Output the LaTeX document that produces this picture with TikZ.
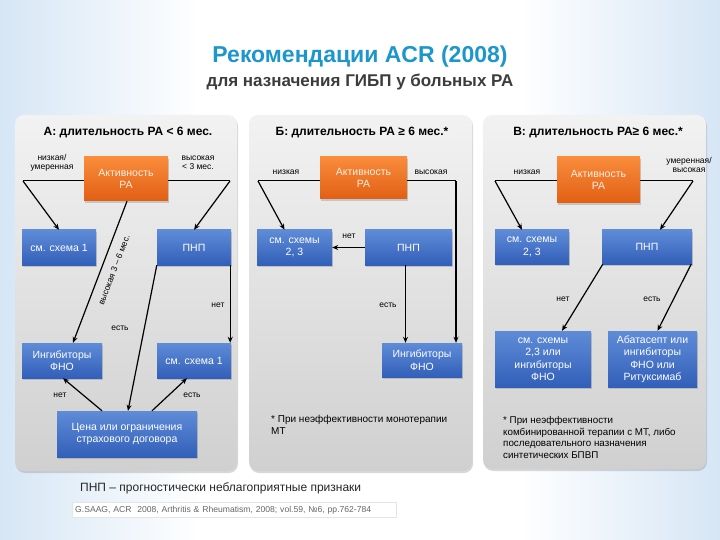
\documentclass[tikz,border=0pt]{standalone}
\usepackage{fontspec}
\setmainfont{Liberation Sans}
\usetikzlibrary{arrows.meta,shadows}
\definecolor{titleblue}{RGB}{28,150,205}
\definecolor{subgray}{RGB}{60,60,60}
\definecolor{boxtop}{RGB}{95,140,215}
\definecolor{boxbot}{RGB}{50,95,185}
\definecolor{ortop}{RGB}{250,140,60}
\definecolor{orbot}{RGB}{225,95,20}
\definecolor{paneltop}{RGB}{242,242,242}
\definecolor{panelbot}{RGB}{208,208,208}
\definecolor{bgblue}{RGB}{214,230,245}
\begin{document}
\begin{tikzpicture}[x=1pt,y=-1pt,
  panel/.style={rounded corners=9pt,top color=paneltop,bottom color=panelbot,draw=none,
    drop shadow={shadow xshift=1pt,shadow yshift=-2pt,opacity=0.3}},
  bluebox/.style={draw=none,top color=boxtop,bottom color=boxbot,text=white,
    font=\fontsize{10.5}{12.5}\selectfont,align=center,inner sep=1pt,
    drop shadow={shadow xshift=1pt,shadow yshift=-2pt,opacity=0.35}},
  orbox/.style={draw=none,top color=ortop,bottom color=orbot,text=white!90!orange,
    font=\fontsize{10.5}{12.5}\selectfont,align=center,inner sep=1pt,
    drop shadow={shadow xshift=1pt,shadow yshift=-2pt,opacity=0.35}},
  lbl/.style={font=\fontsize{8.5}{9.5}\selectfont,align=center,text=black,inner sep=1pt},
  hdr/.style={font=\bfseries\fontsize{12}{14}\selectfont,text=black},
  note/.style={font=\fontsize{10}{12.5}\selectfont,align=left,anchor=north west,inner sep=0pt},
  arr/.style={-{Stealth[length=6pt,width=5pt]},line width=1.2pt},
  ln/.style={line width=1pt}
]
\useasboundingbox (0,0) rectangle (720,540);
% background
\fill[white] (0,0) rectangle (720,540);
\shade[left color=bgblue,right color=white] (0,0) rectangle (200,540);
\shade[left color=white,right color=bgblue] (520,0) rectangle (720,540);

% title
\node[font=\bfseries\fontsize{23}{26}\selectfont,text=titleblue] (title) at (360,57) {Рекомендации ACR (2008)};
\node[font=\bfseries\fontsize{17}{20}\selectfont,text=subgray] (subtitle) at (360,82) {для назначения ГИБП у больных РА};

% panels
\path[panel] (15,115) rectangle (237,471);
\path[panel] (249,115) rectangle (472,471);
\path[panel] (483,115) rectangle (706,469);

% headers
\node[hdr] (hA) at (128,133) {А: длительность РА < 6 мес.};
\node[hdr] (hB) at (362,133) {Б: длительность РА ≥ 6 мес.*};
\node[hdr] (hC) at (598,133) {В: длительность РА≥ 6 мес.*};

% ---------- Panel A ----------
\node[orbox,minimum width=84pt,minimum height=44pt] (orA) at (126,179) {Активность\\РА};
\node[bluebox,minimum width=74pt,minimum height=35pt] (s1A) at (59,247.5) {см. схема 1};
\node[bluebox,minimum width=74pt,minimum height=35pt] (pnpA) at (194,247.5) {ПНП};
\node[bluebox,minimum width=80pt,minimum height=35pt] (ingA) at (62,360.5) {Ингибиторы\\ФНО};
\node[bluebox,minimum width=74pt,minimum height=35pt] (s1bA) at (194,360.5) {см. схема 1};
\node[bluebox,minimum width=140pt,minimum height=46pt] (costA) at (127,434) {Цена или ограничения\\страхового договора};

\coordinate (aL) at (23,181);
\coordinate (aR) at (230,181);
\draw[ln] (orA.west |- aL) -- (aL);
\draw[ln] (orA.east |- aR) -- (aR);
\draw[arr] (aL) -- (s1A.north);
\draw[arr] (aR) -- (pnpA.north);
\node[lbl] (lA1) at (52,163) {низкая/\\умеренная};
\node[lbl] (lA2) at (198,163) {высокая\\< 3 мес.};
\draw[arr] ([xshift=1pt]orA.south) -- ([xshift=11pt]ingA.north);
\node[lbl,rotate=69] (lA3) at (114,270) {высокая 3 – 6 мес.};
\draw[arr] ([xshift=-1pt]pnpA.south east) -- ([xshift=-1pt]s1bA.north east);
\node[lbl] (lA4) at (218,305) {нет};
\draw[arr] (pnpA.south west) -- ([xshift=1pt]costA.north);
\node[lbl] (lA5) at (120,328) {есть};
\draw[arr] ([xshift=-25pt]costA.north) -- ([xshift=1pt]ingA.south);
\draw[arr] ([xshift=25pt]costA.north) -- ([xshift=-7pt]s1bA.south);
\node[lbl] (lA6) at (60,395) {нет};
\node[lbl] (lA7) at (192,395) {есть};

% ---------- Panel B ----------
\node[orbox,minimum width=87pt,minimum height=42pt] (orB) at (363.5,178) {Активность\\РА};
\node[bluebox,minimum width=75pt,minimum height=35pt] (s23B) at (294.5,247.5) {см. схемы\\2, 3};
\node[bluebox,minimum width=87pt,minimum height=35pt] (pnpB) at (408.5,247.5) {ПНП};
\node[bluebox,minimum width=80pt,minimum height=34pt] (ingB) at (422,360) {Ингибиторы\\ФНО};
\coordinate (bL) at (258,181);
\coordinate (bR) at (456,181);
\draw[ln] (orB.west |- bL) -- (bL);
\draw[ln] (orB.east |- bR) -- (bR);
\draw[arr] (bL) -- ([xshift=-10pt]s23B.north);
\draw[arr] (bR) -- (bR |- ingB.north);
\node[lbl] (lB1) at (286,172) {низкая};
\node[lbl] (lB2) at (431,172) {высокая};
\draw[arr] (pnpB.west) -- (s23B.east);
\node[lbl] (lB3) at (349,236) {нет};
\draw[arr,line width=1.8pt] ([xshift=-3pt]pnpB.south) -- ([xshift=-3pt]pnpB.south |- ingB.north);
\node[lbl] (lB4) at (388,305) {есть};
\node[note] (nB) at (271,415) {* При неэффективности монотерапии\\МТ};

% ---------- Panel C ----------
\node[orbox,minimum width=83pt,minimum height=46pt] (orC) at (598.5,180) {Активность\\РА};
\node[bluebox,minimum width=74pt,minimum height=34pt] (s23C) at (532,247) {см. схемы\\2, 3};
\node[bluebox,minimum width=90pt,minimum height=34pt] (pnpC) at (647,247) {ПНП};
\node[bluebox,minimum width=96pt,minimum height=56pt] (s23iC) at (543,359) {см. схемы\\2,3 или\\ингибиторы\\ФНО};
\node[bluebox,minimum width=89pt,minimum height=56pt] (abaC) at (652.5,359) {Абатасепт или\\ингибиторы\\ФНО или\\Ритуксимаб};
\coordinate (cL) at (495,181);
\coordinate (cR) at (693,181);
\draw[ln] (orC.west |- cL) -- (cL);
\draw[ln] (orC.east |- cR) -- (cR);
\draw[arr] (cL) -- ([xshift=-10pt]s23C.north);
\draw[arr] (cR) -- ([xshift=13pt]pnpC.north);
\node[lbl] (lC1) at (527,172) {низкая};
\node[lbl] (lC2) at (689,165) {умеренная/\\высокая};
\draw[arr] ([xshift=1pt]pnpC.south west) -- ([xshift=19pt]s23iC.north);
\draw[arr] ([xshift=-1pt]pnpC.south east) -- ([xshift=5pt]abaC.north);
\node[lbl] (lC3) at (563,299) {нет};
\node[lbl] (lC4) at (652,299) {есть};
\node[note,font=\fontsize{9.8}{11.8}\selectfont] (nC) at (503,416) {* При неэффективности\\комбинированной терапии с МТ, либо\\последовательного назначения\\синтетических БПВП};

% ---------- bottom ----------
\node[anchor=west,font=\fontsize{12}{14}\selectfont,text=black!85,inner sep=0pt] (pnpdef) at (80,488) {ПНП – прогностически неблагоприятные признаки};
\node[anchor=west,font=\fontsize{8.6}{10}\selectfont,text=black!60,draw=black!10,fill=white,inner sep=3pt,minimum height=15pt,text width=318pt] (cite) at (72,510) {G.SAAG, ACR\ \ 2008, Arthritis \& Rheumatism, 2008; vol.59, №6, pp.762-784};
\end{tikzpicture}
\end{document}
